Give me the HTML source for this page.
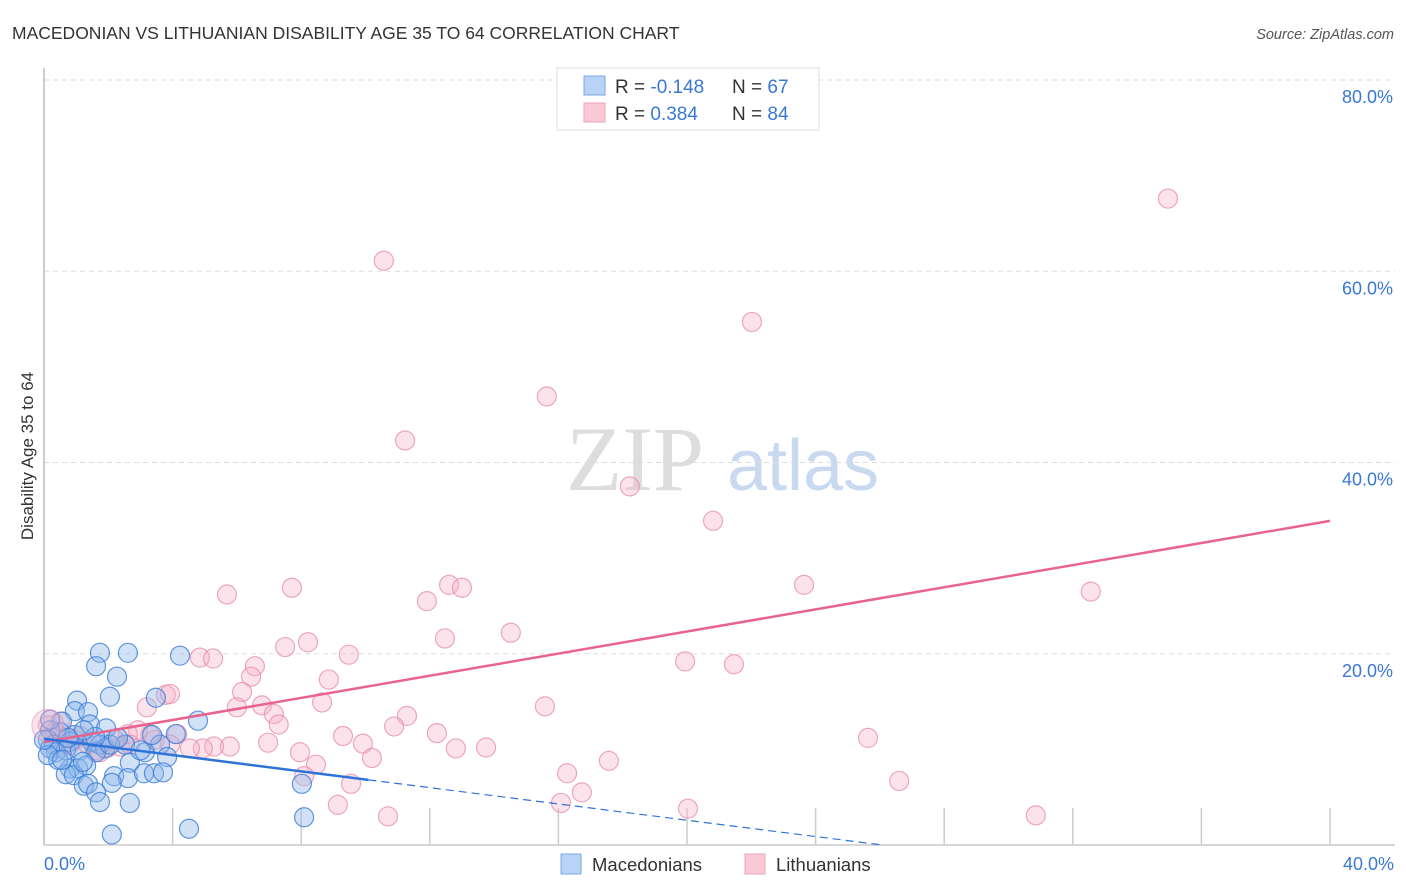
<!DOCTYPE html>
<html><head><meta charset="utf-8"><style>
body{margin:0;background:#fff;font-family:"Liberation Sans",sans-serif;}
#wrap{position:relative;width:1406px;height:892px;overflow:hidden;}
</style></head><body>
<div id="wrap">
<svg id="chart" width="1406" height="892" xmlns="http://www.w3.org/2000/svg">
<text x="12" y="39" font-size="17.5" fill="#333">MACEDONIAN VS LITHUANIAN DISABILITY AGE 35 TO 64 CORRELATION CHART</text>
<text x="1394" y="39" font-size="14.5" fill="#555" font-style="italic" text-anchor="end">Source: ZipAtlas.com</text>
<text x="33" y="456" font-size="17" fill="#333" text-anchor="middle" transform="rotate(-90 33 456)">Disability Age 35 to 64</text>
<g>
<text x="635" y="490" font-size="92" fill="#ddd" font-family="Liberation Serif, serif" text-anchor="middle">ZIP</text>
<text x="803" y="490" font-size="72" fill="#c8d9f0" text-anchor="middle">atlas</text>
</g>
<g id="grid"></g><g id="axes"></g><g id="marks"></g><g id="lines"></g>
<g>
<rect x="557" y="68" width="262" height="62" fill="#fff" stroke="#ddd"/>
<rect x="584" y="76" width="21" height="19" fill="#b8d3f5" stroke="#7aa7e4"/>
<rect x="584" y="103" width="21" height="19" fill="#fbc8d8" stroke="#eba3ba"/>
<text x="615" y="93" font-size="19" fill="#333">R = <tspan fill="#3a78d6">-0.148</tspan></text>
<text x="732" y="93" font-size="19" fill="#333">N = <tspan fill="#3a78d6">67</tspan></text>
<text x="615" y="120" font-size="19" fill="#333">R = <tspan fill="#3a78d6"> 0.384</tspan></text>
<text x="732" y="120" font-size="19" fill="#333">N = <tspan fill="#3a78d6">84</tspan></text>
</g>
<g>
<rect x="561" y="854" width="20" height="20" fill="#b8d3f5" stroke="#7aa7e4"/>
<text x="592" y="871" font-size="18.5" fill="#333">Macedonians</text>
<rect x="745" y="854" width="20" height="20" fill="#fbc8d8" stroke="#eba3ba"/>
<text x="776" y="871" font-size="18.5" fill="#333">Lithuanians</text>
</g>
</svg>
</div>
<script>
const yTicks=[20,40,60,80];
const yTickLabels=["20.0%","40.0%","60.0%","80.0%"];
const xTicks=[0,4,8,12,16,20,24,28,32,36,40];
const xEndLabels=["0.0%","40.0%"];
const blueX=[1.74,2.61,4.23,1.62,2.27,1.03,2.05,3.48,0.96,1.37,0.56,1.43,1.93,4.79,0.19,0.50,0.12,0.31,0.81,1.49,1.74,1.90,2.52,3.61,0.37,0.68,1.12,1.62,2.67,3.83,3.14,0.81,1.06,1.31,0.68,0.93,2.18,2.61,3.11,3.42,3.70,1.24,1.37,2.11,1.62,1.74,2.67,8.02,8.09,2.11,4.51,0.19,0.44,1.21,0.12,0.56,0.0,2.05,1.59,0.96,3.36,3.0,4.1,1.24,0.75,2.3,0.19];
const blueY=[20.1,20.1,19.8,18.7,17.6,15.1,15.5,15.4,14.0,13.9,12.9,12.6,12.2,13.0,12.0,11.8,11.0,10.5,10.8,10.8,10.5,10.1,10.5,10.5,9.7,9.9,9.9,9.7,8.6,9.2,9.7,8.0,8.0,8.3,7.4,7.3,7.2,7.0,7.5,7.5,7.6,6.2,6.4,6.5,5.5,4.5,4.4,6.4,2.9,1.1,1.7,10.1,8.9,8.7,9.4,8.9,11.0,10.5,11.3,11.5,11.5,9.9,11.6,12.0,11.2,11.2,13.1];
const pinkX=[34.96,10.57,22.02,15.64,11.23,18.22,20.81,23.64,32.56,5.69,7.71,12.6,13.0,11.91,14.52,12.47,8.21,7.5,9.48,4.85,5.26,19.94,21.46,6.56,6.44,8.86,6.16,3.79,3.92,8.65,6.0,6.78,15.58,3.2,7.15,11.29,7.3,10.89,0.5,12.22,25.63,9.3,4.14,2.92,2.61,3.45,6.97,9.92,5.78,5.29,4.94,4.54,2.36,1.99,12.81,13.75,7.96,10.2,8.46,17.57,8.09,16.27,9.55,26.6,16.73,9.14,16.08,20.03,10.7,30.85,0.12,0.96,1.37,0.5,2.67,1.59,0.81,2.2,3.3,0.62,3.92,1.74,0.34,1.12];
const pinkY=[67.6,61.1,54.7,46.9,42.3,37.5,33.9,27.2,26.5,26.2,26.9,27.2,26.9,25.5,22.2,21.6,21.2,20.7,19.9,19.6,19.5,19.2,18.9,18.7,17.6,17.3,16.0,15.7,15.8,14.9,14.4,14.6,14.5,14.4,13.7,13.5,12.6,12.4,12.9,11.7,11.2,11.4,11.6,12.0,11.6,11.0,10.7,10.6,10.3,10.3,10.1,10.1,10.3,10.2,10.1,10.2,9.7,9.1,8.4,8.8,7.2,7.5,6.4,6.7,5.5,4.2,4.4,3.8,3.0,3.1,12.5,11.0,10.5,10.1,10.5,9.9,10.5,11.0,11.5,11.2,10.5,9.7,11.8,11.4];

const NS="http://www.w3.org/2000/svg";
const X0=44,X1=1330,Y0=845,Y80=80;
function sx(v){return X0+(v/40)*(X1-X0);}
function sy(v){return Y0-(v/80)*(Y0-Y80);}
function mk(tag,attrs,parent){const e=document.createElementNS(NS,tag);for(const k in attrs)e.setAttribute(k,attrs[k]);parent.appendChild(e);return e;}
const grid=document.getElementById('grid'),axes=document.getElementById('axes'),marks=document.getElementById('marks'),lines=document.getElementById('lines');
yTicks.forEach((t,i)=>{
  const l=mk('line',{x1:X0,x2:1395,y1:sy(t),y2:sy(t),stroke:'#ddd','stroke-dasharray':'5,4'},grid);
  
  
  const tx=mk('text',{x:1393,y:sy(t)+23,'font-size':18,fill:'#3a78d6','text-anchor':'end'},axes);
  tx.textContent=yTickLabels[i];
  
  
});
const ax=mk('line',{x1:X0,x2:X0,y1:68,y2:Y0,stroke:'#bbb','stroke-width':1.5},axes);


const bx=mk('line',{x1:X0,x2:1395,y1:Y0,y2:Y0,stroke:'#ccc','stroke-width':1.5},axes);


xTicks.forEach(t=>{
  if(t===0)return;
  const l=mk('line',{x1:sx(t),x2:sx(t),y1:Y0-37,y2:Y0,stroke:'#ccc','stroke-width':1.5},axes);
  
  
});
const xl0=mk('text',{x:44,y:870,'font-size':18,fill:'#3a78d6'},axes);xl0.textContent=xEndLabels[0];


const xl1=mk('text',{x:1394,y:870,'font-size':18,fill:'#3a78d6','text-anchor':'end'},axes);xl1.textContent=xEndLabels[1];



function dots(xs,ys,fill,stroke,name){
  xs.forEach((x,i)=>{
    const c=mk('circle',{cx:sx(x),cy:sy(ys[i]),r:9.5,fill:fill,stroke:stroke,'stroke-width':1.2},marks);
    
    
  });
}
dots(pinkX,pinkY,'rgba(247,175,198,0.35)','rgba(230,140,170,0.75)','lithuanian-point');
dots(blueX,blueY,'rgba(140,182,236,0.4)','rgba(60,125,215,0.8)','macedonian-point');
const big=mk('circle',{cx:sx(pinkX[70]),cy:sy(pinkY[70]),r:16,fill:'rgba(247,175,198,0.35)',stroke:'rgba(230,140,170,0.6)'},marks);



function fit(xs,ys){const n=xs.length;let mx=0,my=0;xs.forEach((x,i)=>{mx+=x;my+=ys[i];});mx/=n;my/=n;let sxy=0,sxx=0;xs.forEach((x,i)=>{sxy+=(x-mx)*(ys[i]-my);sxx+=(x-mx)*(x-mx);});const b=sxy/sxx;return [my-b*mx,b];}
const pf=fit(pinkX,pinkY);
const pl=mk('line',{x1:sx(0),y1:sy(pf[0]),x2:sx(40),y2:sy(pf[0]+pf[1]*40),stroke:'#e8648f','stroke-width':2.5},lines);


const bf=fit(blueX,blueY);
const bmax=Math.max(...blueX)+2;
const bl=mk('line',{x1:sx(0),y1:sy(bf[0]),x2:sx(bmax),y2:sy(bf[0]+bf[1]*bmax),stroke:'#2f73d8','stroke-width':2.5},lines);


let xEnd=40;if(bf[1]<0){xEnd=Math.min(40,-bf[0]/bf[1]);}
const bd=mk('line',{x1:sx(bmax),y1:sy(bf[0]+bf[1]*bmax),x2:sx(xEnd),y2:sy(bf[0]+bf[1]*xEnd),stroke:'#2f73d8','stroke-width':1.2,'stroke-dasharray':'8,5'},lines);


</script>
</body></html>
